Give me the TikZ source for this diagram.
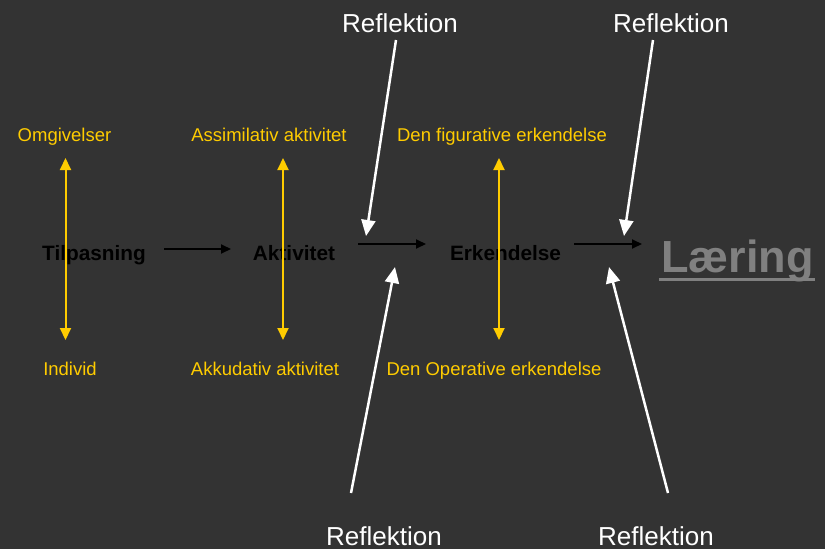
\documentclass[tikz,border=0pt]{standalone}
\usepackage{fontspec}
\setmainfont{Liberation Sans}
\usetikzlibrary{arrows.meta}
\definecolor{bg}{HTML}{333333}
\definecolor{gold}{HTML}{FFCC00}
\definecolor{lgray}{HTML}{808080}
\begin{document}
\begin{tikzpicture}[x=1pt,y=-1pt,
  lbl/.style={inner sep=0pt, anchor=base},
  refl/.style={lbl, text=white, font=\fontsize{26}{30}\selectfont},
  yl/.style={lbl, text=gold, font=\fontsize{18.5}{22}\selectfont},
  bk/.style={lbl, text=black, font=\bfseries\fontsize{20.8}{24}\selectfont},
  yarrow/.style={draw=gold, line width=2pt, {Triangle[length=12pt,width=11pt]}-{Triangle[length=12pt,width=11pt]}},
  karrow/.style={draw=black, line width=2pt, -{Triangle[length=10pt,width=9pt]}},
  warrow/.style={draw=white, line width=2.5pt, -{Triangle[length=16pt,width=14pt]}}
]
\fill[bg] (0,0) rectangle (825,549);
\useasboundingbox (0,0) rectangle (825,549);

% Reflektion labels
\node[refl] (r1) at (400,32) {Reflektion};
\node[refl] (r2) at (671,32) {Reflektion};
\node[refl] (r3) at (384,545) {Reflektion};
\node[refl] (r4) at (656,545) {Reflektion};

% yellow labels
\node[yl] (omg) at (64.5,141) {Omgivelser};
\node[yl] (ass) at (269,141) {Assimilativ aktivitet};
\node[yl] (fig) at (502,141) {Den figurative erkendelse};
\node[yl] (ind) at (70,375) {Individ};
\node[yl] (akk) at (265,375) {Akkudativ aktivitet};
\node[yl] (ope) at (494,375) {Den Operative erkendelse};

% black labels
\node[bk] (tilp) at (94,260) {Tilpasning};
\node[bk] (akt) at (294,260) {Aktivitet};
\node[bk] (erk) at (505.5,260) {Erkendelse};
\node[lbl, text=lgray, font=\bfseries\fontsize{45}{50}\selectfont] (laer) at (737.5,272) {Læring};
\draw[lgray, line width=3pt] ([xshift=-2pt,yshift=-7pt]laer.base west) -- ([xshift=1pt,yshift=-7pt]laer.base east);

% yellow double arrows
\coordinate (y1t) at (65.5,158); \coordinate (y1b) at (65.5,340);
\coordinate (y2t) at (283,158);  \coordinate (y2b) at (283,340);
\coordinate (y3t) at (499,158);  \coordinate (y3b) at (499,340);
\draw[yarrow] (y1t) -- (y1b);
\draw[yarrow] (y2t) -- (y2b);
\draw[yarrow] (y3t) -- (y3b);

% black arrows
\coordinate (k1s) at (164,249); \coordinate (k1e) at (231,249);
\coordinate (k2s) at (358,244); \coordinate (k2e) at (426,244);
\coordinate (k3s) at (574,244); \coordinate (k3e) at (642,244);
\draw[karrow] (k1s) -- (k1e);
\draw[karrow] (k2s) -- (k2e);
\draw[karrow] (k3s) -- (k3e);

% white arrows
\coordinate (w1s) at (396,40);  \coordinate (w1e) at (366,236);
\coordinate (w2s) at (653,40);  \coordinate (w2e) at (624,236);
\coordinate (w3s) at (351,493); \coordinate (w3e) at (395,267);
\coordinate (w4s) at (668,493); \coordinate (w4e) at (609,267);
\draw[warrow] (w1s) -- (w1e);
\draw[warrow] (w2s) -- (w2e);
\draw[warrow] (w3s) -- (w3e);
\draw[warrow] (w4s) -- (w4e);
\end{tikzpicture}
\end{document}
